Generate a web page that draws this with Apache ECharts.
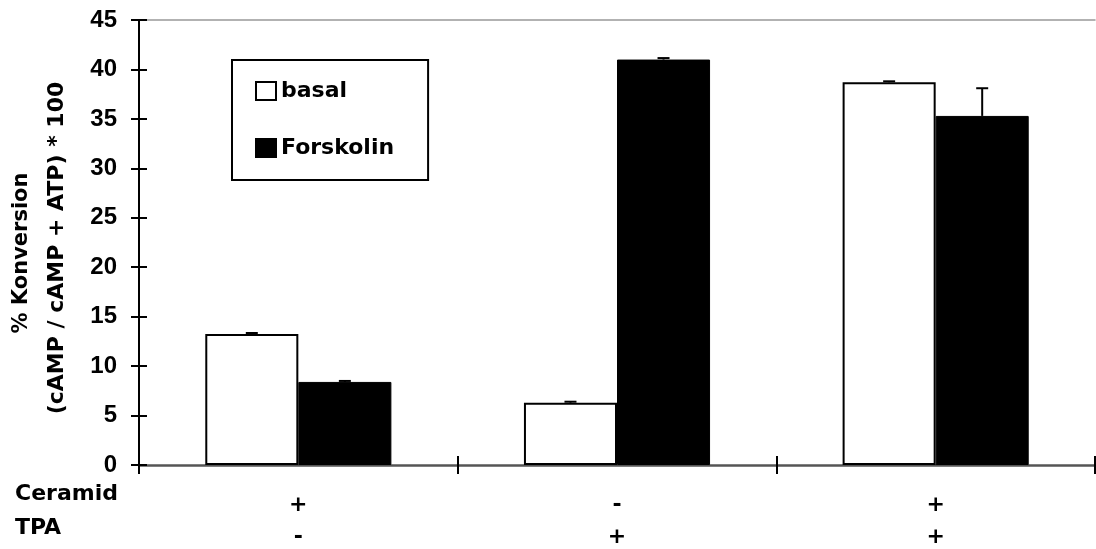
<!DOCTYPE html>
<html>
<head>
<meta charset="utf-8">
<script src="https://cdn.jsdelivr.net/npm/echarts@6/dist/echarts.min.js"></script>
<style>
  html, body { margin: 0; padding: 0; background: #fff; }
  #chart { width: 1096px; height: 549px; }
</style>
</head>
<body>
<div id="chart"></div>
<script>
// Treatment conditions per group (row labels under the axis)
const ceramid = ['+', '-', '+'];
const tpa = ['-', '+', '+'];
const categories = ['Ceramid+ / TPA-', 'Ceramid- / TPA+', 'Ceramid+ / TPA+'];

// % conversion values and upper error (SD)
const basal = [13.25, 6.3, 38.7];
const basalErr = [0.1, 0.1, 0.1];
const forskolin = [8.4, 41.0, 35.3];
const forskolinErr = [0.1, 0.15, 2.8];

const yTicks = { min: 0, max: 45, interval: 5 };

const NUM_FONT = '"Liberation Sans", Arial, sans-serif';
const TXT_FONT = '"DejaVu Sans", sans-serif';
const BAR_FRAC = 0.292;

const chart = echarts.init(document.getElementById('chart'), null, { renderer: 'canvas' });

function errorSeries(name, values, errs, side) {
  return {
    type: 'custom',
    name: name + ' SD',
    xAxisIndex: 0,
    yAxisIndex: 0,
    z: 5,
    silent: true,
    data: values.map((v, i) => [i, v, v + errs[i]]),
    renderItem: function (params, api) {
      const cat = api.value(0);
      const band = api.size([1, 0])[0];
      const dx = side * band * BAR_FRAC / 2;
      const base = api.coord([cat, api.value(1)]);
      const top = api.coord([cat, api.value(2)]);
      const x = base[0] + dx;
      const cap = 6;
      const st = { stroke: '#000', lineWidth: 2 };
      return {
        type: 'group',
        children: [
          { type: 'line', shape: { x1: x, y1: base[1], x2: x, y2: top[1] }, style: st },
          { type: 'line', shape: { x1: x - cap, y1: top[1], x2: x + cap, y2: top[1] }, style: st }
        ]
      };
    }
  };
}

const option = {
  animation: false,
  backgroundColor: '#fff',
  grid: { left: 139, right: 1, top: 20, bottom: 84, outerBoundsMode: 'none', containLabel: false },
  legend: {
    orient: 'vertical',
    left: 232,
    top: 60,
    data: ['basal', 'Forskolin'],
    icon: 'rect',
    itemWidth: 20,
    itemHeight: 18,
    itemGap: 35,
    padding: [20, 34, 21, 23],
    borderColor: '#000',
    borderWidth: 2,
    backgroundColor: '#fff',
    textStyle: { fontFamily: TXT_FONT, fontWeight: 'bold', fontSize: 22, color: '#000', padding: [0, 0, 0, 0] }
  },
  xAxis: [
    {
      type: 'category',
      data: categories,
      position: 'bottom',
      axisLine: { show: true, lineStyle: { color: '#555', width: 2.5 } },
      axisTick: { show: true, inside: false, length: 9, lineStyle: { color: '#000', width: 2 } },
      axisLabel: {
        margin: 24,
        lineHeight: 32,
        fontFamily: TXT_FONT,
        fontWeight: 'bold',
        fontSize: 22,
        color: '#000',
        formatter: (v, i) => ceramid[i] + '\n' + tpa[i]
      },
      splitLine: { show: false }
    },
    {
      type: 'category',
      data: categories,
      position: 'bottom',
      axisLine: { show: false },
      axisTick: { show: true, inside: true, length: 9, lineStyle: { color: '#000', width: 2 } },
      axisLabel: { show: false },
      splitLine: { show: false }
    },
    {
      type: 'category',
      data: categories,
      position: 'top',
      axisLine: { show: true, lineStyle: { color: '#999', width: 1.5 } },
      axisTick: { show: false },
      axisLabel: { show: false },
      splitLine: { show: false }
    }
  ],
  yAxis: [
    {
      type: 'value',
      min: yTicks.min,
      max: yTicks.max,
      interval: yTicks.interval,
      position: 'left',
      axisLine: { show: true, lineStyle: { color: '#000', width: 2 } },
      axisTick: { show: true, inside: false, length: 8, lineStyle: { color: '#000', width: 2 } },
      axisLabel: { margin: 22, fontFamily: NUM_FONT, fontWeight: 'bold', fontSize: 24, color: '#000' },
      splitLine: { show: false }
    },
    {
      type: 'value',
      min: yTicks.min,
      max: yTicks.max,
      interval: yTicks.interval,
      position: 'left',
      axisLine: { show: false },
      axisTick: { show: true, inside: true, length: 8, lineStyle: { color: '#000', width: 2 } },
      axisLabel: { show: false },
      splitLine: { show: false }
    }
  ],
  series: [
    {
      name: 'basal',
      type: 'bar',
      data: basal,
      barWidth: (BAR_FRAC * 100) + '%',
      barGap: '0%',
      itemStyle: { color: '#fff', borderColor: '#000', borderWidth: 2 },
      z: 3
    },
    {
      name: 'Forskolin',
      type: 'bar',
      data: forskolin,
      barWidth: (BAR_FRAC * 100) + '%',
      barGap: '0%',
      itemStyle: { color: '#000', borderColor: '#000', borderWidth: 1 },
      z: 3
    },
    errorSeries('basal', basal, basalErr, -1),
    errorSeries('Forskolin', forskolin, forskolinErr, 1)
  ],
  graphic: [
    {
      type: 'text',
      x: 22, y: 253,
      rotation: Math.PI / 2,
      style: {
        text: '% Konversion',
        fontFamily: TXT_FONT, fontWeight: 'bold', fontSize: 21,
        fill: '#000', align: 'center', verticalAlign: 'middle'
      }
    },
    {
      type: 'text',
      x: 57, y: 248,
      rotation: Math.PI / 2,
      style: {
        text: '(cAMP / cAMP + ATP) * 100',
        fontFamily: TXT_FONT, fontWeight: 'bold', fontSize: 22,
        fill: '#000', align: 'center', verticalAlign: 'middle'
      }
    },
    {
      type: 'text',
      x: 15, y: 494,
      style: {
        text: 'Ceramid',
        fontFamily: TXT_FONT, fontWeight: 'bold', fontSize: 22,
        fill: '#000', align: 'left', verticalAlign: 'middle'
      }
    },
    {
      type: 'text',
      x: 15, y: 528,
      style: {
        text: 'TPA',
        fontFamily: TXT_FONT, fontWeight: 'bold', fontSize: 22,
        fill: '#000', align: 'left', verticalAlign: 'middle'
      }
    }
  ]
};

chart.setOption(option);
</script>
</body>
</html>
